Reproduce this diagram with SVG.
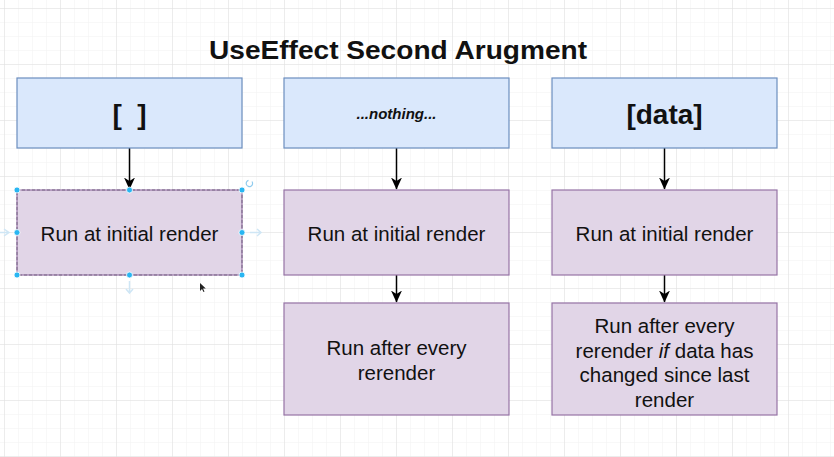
<svg xmlns="http://www.w3.org/2000/svg" width="834" height="457" viewBox="0 0 834 457">
<style>
.hdr{fill:#dae8fc;stroke:#6c8ebf;stroke-width:1.2}
.step{fill:#e1d5e7;stroke:#9673a6;stroke-width:1.2}
.t{font-family:"Liberation Sans",Arial,sans-serif;fill:#111;text-anchor:middle}
.body{font-size:20.5px}
.conn{stroke:#000;stroke-width:1.5;fill:none}
.handle{fill:#29b6f2;stroke:#fff;stroke-width:0.8}
</style>
<defs>
<pattern id="minor" width="14" height="14" x="4" y="8" patternUnits="userSpaceOnUse">
<path d="M0 0H14M0 0V14" stroke="#f1f1f1" stroke-width="1" fill="none"/>
</pattern>
<pattern id="major" width="56" height="56" x="4" y="8" patternUnits="userSpaceOnUse">
<path d="M0 0H56M0 0V56" stroke="#e0e0e0" stroke-width="1" fill="none"/>
</pattern>
<marker id="arr" viewBox="0 0 12 12" refX="11.5" refY="6" markerWidth="12" markerHeight="12" orient="auto" markerUnits="userSpaceOnUse">
<path d="M0,0.5 L12,6 L0,11.5 L3.5,6 Z" fill="#000"/>
</marker>
</defs>
<rect width="834" height="457" fill="#fff"/>
<rect width="834" height="457" fill="url(#minor)"/>
<rect width="834" height="457" fill="url(#major)"/>

<g id="title">
<text class="t" x="398" y="59" font-size="26" font-weight="bold" textLength="378" lengthAdjust="spacingAndGlyphs">UseEffect Second Arugment</text>
</g>

<g id="connectors">
<path class="conn" d="M129.5 148V189" marker-end="url(#arr)"/>
<path class="conn" d="M396.5 148V189" marker-end="url(#arr)"/>
<path class="conn" d="M664.5 148V189" marker-end="url(#arr)"/>
<path class="conn" d="M396.5 275V302" marker-end="url(#arr)"/>
<path class="conn" d="M664.5 275V302" marker-end="url(#arr)"/>
</g>

<g id="empty-array">
<rect class="hdr" x="17" y="78" width="225" height="70"/>
<text class="t" x="129.5" y="124" font-size="28" font-weight="bold">[&#160;&#160;]</text>
</g>
<g id="nothing">
<rect class="hdr" x="284" y="78" width="225" height="70"/>
<text class="t" x="396.5" y="119" font-size="15" font-weight="bold" font-style="italic">...nothing...</text>
</g>
<g id="data-array">
<rect class="hdr" x="552" y="78" width="225" height="70"/>
<text class="t" x="664.5" y="124" font-size="28" font-weight="bold">[data]</text>
</g>

<g id="initial-1">
<rect class="step" x="17" y="190" width="225" height="85"/>
<text class="t body" x="129.5" y="241">Run at initial render</text>
</g>
<g id="initial-2">
<rect class="step" x="284" y="190" width="225" height="85"/>
<text class="t body" x="396.5" y="241">Run at initial render</text>
</g>
<g id="initial-3">
<rect class="step" x="552" y="190" width="225" height="85"/>
<text class="t body" x="664.5" y="241">Run at initial render</text>
</g>
<g id="every-rerender">
<rect class="step" x="284" y="303" width="225" height="112"/>
<text class="t body" x="396.5" y="355">Run after every</text>
<text class="t body" x="396.5" y="380">rerender</text>
</g>
<g id="data-changed">
<rect class="step" x="552" y="303" width="225" height="112"/>
<text class="t body" x="664.5" y="333">Run after every</text>
<text class="t body" x="664.5" y="357.5">rerender <tspan font-style="italic">if</tspan> data has</text>
<text class="t body" x="664.5" y="382">changed since last</text>
<text class="t body" x="664.5" y="406.5">render</text>
</g>

<g id="selection">
<rect x="17" y="190" width="225" height="85" fill="none" stroke="#7a6a88" stroke-width="1" stroke-dasharray="3 2"/>
<path d="M0 232.5H9M4 229l5 3.5-5 3.5" stroke="#cfe6f5" stroke-width="1.5" fill="none"/>
<path d="M250 232.5H261M257 229l4 3.5-4 3.5" stroke="#cfe6f5" stroke-width="1.5" fill="none"/>
<path d="M129.5 281V293M126 289l3.5 4 3.5-4" stroke="#cfe6f5" stroke-width="1.5" fill="none"/>
<circle class="handle" cx="17" cy="190" r="3"/>
<circle class="handle" cx="129.5" cy="190" r="3"/>
<circle class="handle" cx="242" cy="190" r="3"/>
<circle class="handle" cx="17" cy="232.5" r="3"/>
<circle class="handle" cx="242" cy="232.5" r="3"/>
<circle class="handle" cx="17" cy="275" r="3"/>
<circle class="handle" cx="129.5" cy="275" r="3"/>
<circle class="handle" cx="242" cy="275" r="3"/>
<path d="M252 181.5a3.2 3.2 0 1 1-3.5-1.2" stroke="#8fcbee" stroke-width="1.2" fill="none"/>
<path d="M200 283l0 8 2-2 1.5 3 1-0.5-1.5-3 2.8 0z" fill="#222"/>
</g>
</svg>
